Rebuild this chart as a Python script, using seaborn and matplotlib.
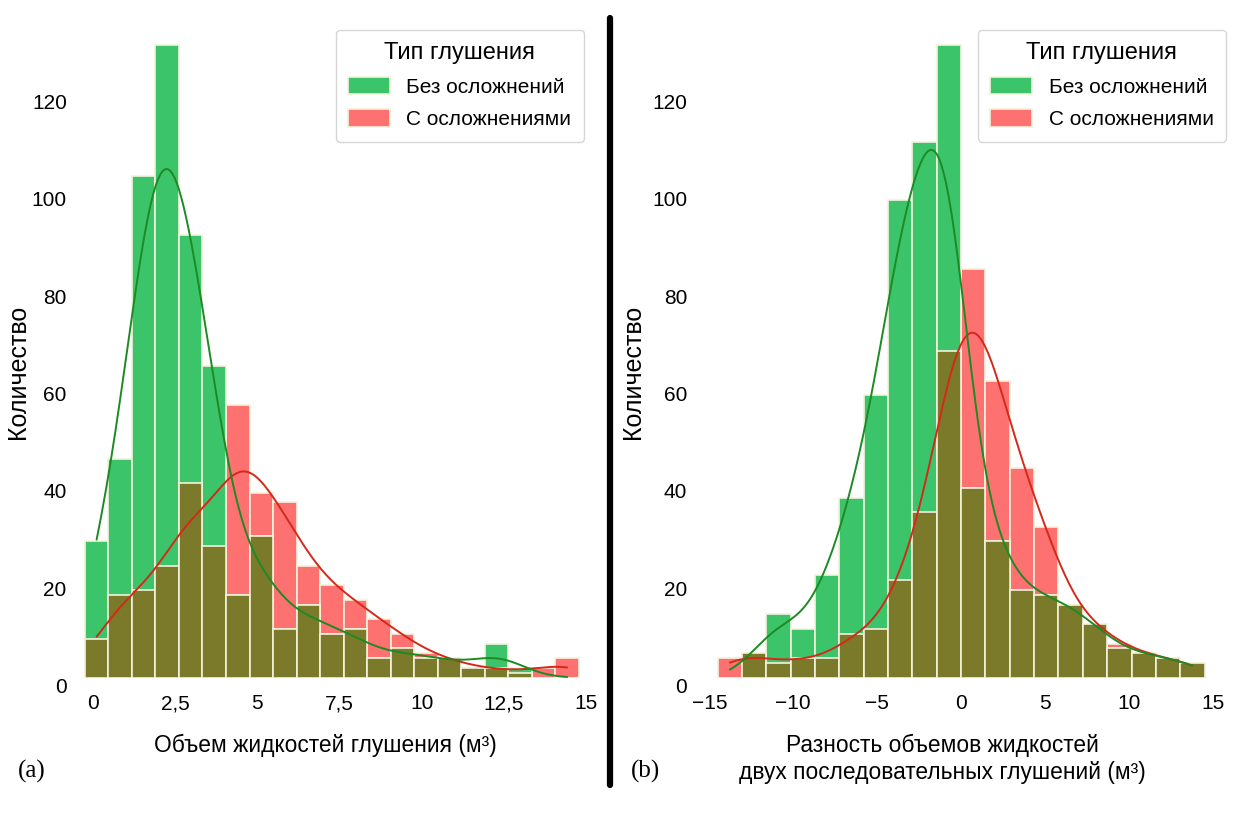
import numpy as np
import pandas as pd
import seaborn as sns
import matplotlib.pyplot as plt
import matplotlib.transforms as mtransforms
from matplotlib.lines import Line2D
from matplotlib.colors import to_hex

groups = ['Без осложнений', 'С осложнениями']

# (a) Объем жидкостей глушения: bin range and counts per bin
vol_lo, vol_hi, vol_nbins = -0.24, 14.78, 21
vol_ok = [28, 45, 103, 130, 91, 64, 17, 29, 10, 15, 9, 10, 4, 6, 4, 4, 2, 7, 2, 0, 0]
vol_bad = [8, 17, 18, 23, 40, 27, 56, 38, 36, 23, 19, 16, 12, 9, 5, 4, 2, 2, 1, 2, 4]
vol_ticks = [0, 2.5, 5, 7.5, 10, 12.5, 15]
vol_ticklabels = ['0', '2,5', '5', '7,5', '10', '12,5', '15']

# (b) Разность объемов двух последовательных глушений
diff_lo, diff_hi, diff_nbins = -14.5, 14.5, 20
diff_ok = [0, 5, 13, 10, 21, 37, 58, 98, 110, 130, 39, 28, 18, 17, 15, 11, 6, 5, 4, 3]
diff_bad = [4, 5, 3, 4, 4, 9, 10, 20, 34, 67, 84, 61, 43, 31, 15, 11, 7, 5, 4, 3]
diff_ticks = [-15, -10, -5, 0, 5, 10, 15]
diff_ticklabels = ['−15', '−10', '−5', '0', '5', '10', '15']

y_ticks = [0, 20, 40, 60, 80, 100, 120]

colors = {groups[0]: '#3cc46a', groups[1]: '#fd7171'}
line_colors = {'#3cc46a': '#1d8a24', '#fd7171': '#d6281a'}
olive = '#7a7a2a'
edge = '#f4f2dc'

sns.set_style('white')
plt.rcParams['font.family'] = ['Liberation Sans', 'DejaVu Sans']
plt.rcParams['xtick.major.pad'] = 12
plt.rcParams['ytick.major.pad'] = 4.5
for key in ['text.color', 'axes.labelcolor', 'xtick.color', 'ytick.color']:
    plt.rcParams[key] = 'black'


def centers_of(lo, hi, nbins):
    width = (hi - lo) / nbins
    return lo + width * (np.arange(nbins) + 0.5)


def draw(ax, lo, hi, nbins, ok, bad):
    c = centers_of(lo, hi, nbins)
    df = pd.DataFrame({'x': np.concatenate([c, c]),
                       'n': ok + bad,
                       'type': [groups[0]] * nbins + [groups[1]] * nbins})
    df = df[df['n'] > 0]
    sns.histplot(data=df, x='x', weights='n', hue='type', hue_order=groups,
                 bins=nbins, binrange=(lo, hi), palette=colors, alpha=1,
                 edgecolor=edge, linewidth=1.2, kde=True,
                 kde_kws={'bw_adjust': 0.42},
                 line_kws={'linewidth': 1.4}, ax=ax)
    # overlap of both groups drawn in olive
    both = np.minimum(ok, bad)
    sns.histplot(x=c, weights=both, bins=nbins, binrange=(lo, hi), color=olive,
                 alpha=1, edgecolor=edge, linewidth=1.2, legend=False, ax=ax)
    for line in ax.lines:
        line.set_color(line_colors[to_hex(line.get_color())])
        line.set_zorder(5)


fig = plt.figure(figsize=(12.48, 8.32), dpi=100)
W, H = 1248, 832


def box(x0, x1, y0, y1):
    return [x0 / W, 1 - y1 / H, (x1 - x0) / W, (y1 - y0) / H]


ax1 = fig.add_axes(box(73, 592.8, 25.1, 677.7))
ax2 = fig.add_axes(box(693.3, 1226.4, 25.1, 677.7))

draw(ax1, vol_lo, vol_hi, vol_nbins, vol_ok, vol_bad)
draw(ax2, diff_lo, diff_hi, diff_nbins, diff_ok, diff_bad)

ax1.set_xlim(-0.6, 15.2)
ax2.set_xlim(-15.95, 15.8)
ax1.set_xticks(vol_ticks, vol_ticklabels)
ax2.set_xticks(diff_ticks, diff_ticklabels)

offset = mtransforms.ScaledTranslation(0, -8 / 100, fig.dpi_scale_trans)
for ax in (ax1, ax2):
    ax.set_ylim(0, 134)
    ax.set_yticks(y_ticks, [str(v) for v in y_ticks])
    ax.tick_params(labelsize=15, length=0)
    for lab in ax.get_yticklabels():
        lab.set_transform(lab.get_transform() + offset)
    sns.despine(ax=ax, left=True, bottom=True)
    ax.set_ylabel('Количество', fontsize=18)

ax1.set_xlabel('Объем жидкостей глушения (м³)', fontsize=16.4)
ax2.set_xlabel('Разность объемов жидкостей\nдвух последовательных глушений (м³)', fontsize=16.4)
ax1.xaxis.set_label_coords(325 / W, 1 - 734 / H, transform=fig.transFigure)
ax2.xaxis.set_label_coords(942 / W, 1 - 734 / H, transform=fig.transFigure)
ax1.yaxis.set_label_coords(30 / W, 1 - 372 / H, transform=fig.transFigure)
ax2.yaxis.set_label_coords(645 / W, 1 - 372 / H, transform=fig.transFigure)

legend_style = dict(loc='upper right', borderaxespad=0, title='Тип глушения',
                    fontsize=15, title_fontsize=17, handlelength=2.0,
                    handleheight=0.9, labelspacing=0.6, borderpad=0.6,
                    handletextpad=0.8, frameon=True)
sns.move_legend(ax1, bbox_to_anchor=(0.983, 0.9925), **legend_style)
sns.move_legend(ax2, bbox_to_anchor=(0.9993, 0.9925), **legend_style)

fig.text(32 / W, 1 - 771 / H, '(a)', family=['Liberation Serif', 'DejaVu Serif'],
         fontsize=18, ha='center', va='center')
fig.text(645 / W, 1 - 771 / H, '(b)', family=['Liberation Serif', 'DejaVu Serif'],
         fontsize=18, ha='center', va='center')

fig.add_artist(Line2D([610 / W, 610 / W], [1 - 18 / H, 1 - 785 / H],
                      color='black', linewidth=4.5, transform=fig.transFigure))

fig.savefig('out.png', dpi=100, facecolor='white')
